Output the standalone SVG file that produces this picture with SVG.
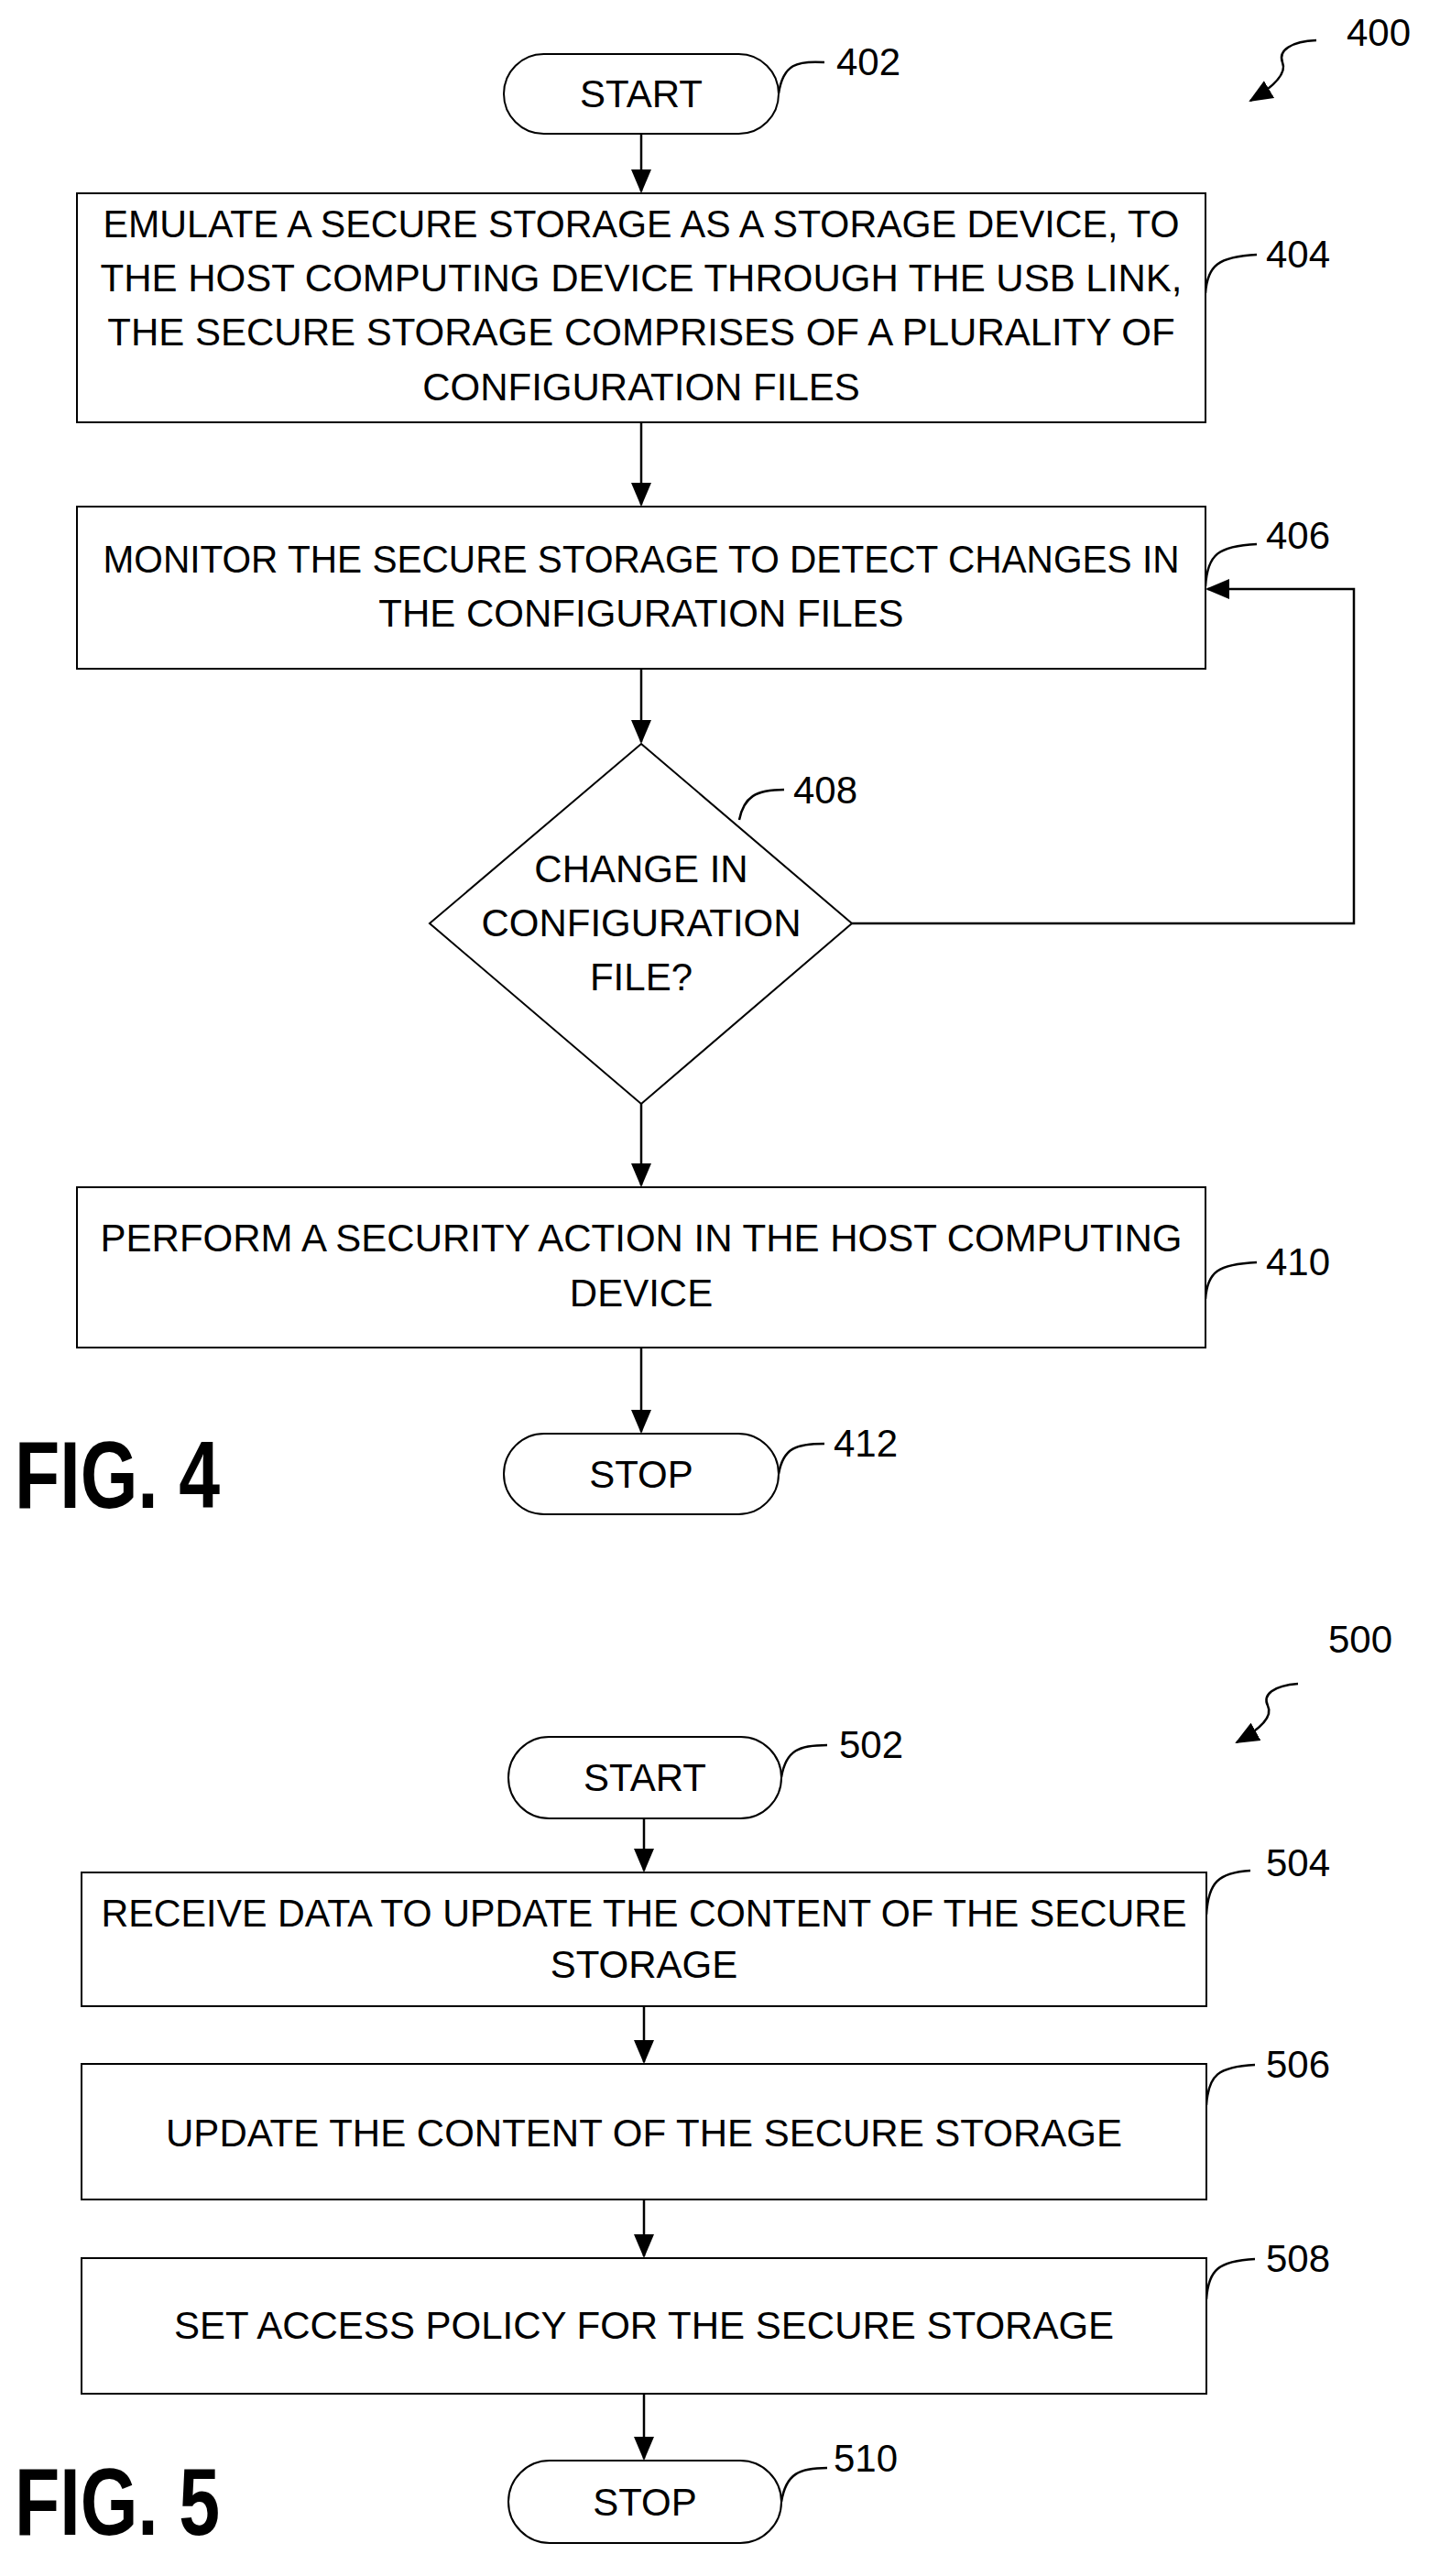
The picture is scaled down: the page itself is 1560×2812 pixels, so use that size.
<svg xmlns="http://www.w3.org/2000/svg" width="1560" height="2812" viewBox="0 0 1560 2812">
<style>
.s{fill:#fff;stroke:#000;stroke-width:2}
.l{fill:none;stroke:#000;stroke-width:2.5}
.t{font-family:"Liberation Sans",Arial,sans-serif;font-size:42px;text-anchor:middle;fill:#000}
.n{font-family:"Liberation Sans",Arial,sans-serif;font-size:42px;fill:#000}
.f{font-family:"Liberation Sans",Arial,sans-serif;font-size:104px;font-weight:bold;fill:#000}
</style>
<defs>
<marker id="b" markerWidth="26" markerHeight="22" refX="24" refY="11" orient="auto" markerUnits="userSpaceOnUse"><path d="M0,0 L26,11 L0,22 z" fill="#000"/></marker></defs>
<g id="connectors">
<path class="l" d="M700,146 V209" marker-end="url(#b)"/>
<path class="l" d="M700,461 V551" marker-end="url(#b)"/>
<path class="l" d="M700,730 V810" marker-end="url(#b)"/>
<path class="l" d="M700,1205 V1294" marker-end="url(#b)"/>
<path class="l" d="M930,1008 H1478 V643 H1318" marker-end="url(#b)"/>
<path class="l" d="M700,1471 V1563" marker-end="url(#b)"/>
<path class="l" d="M703,1985 V2042" marker-end="url(#b)"/>
<path class="l" d="M703,2190 V2251" marker-end="url(#b)"/>
<path class="l" d="M703,2401 V2463" marker-end="url(#b)"/>
<path class="l" d="M703,2613 V2684" marker-end="url(#b)"/>
<path class="l" d="M850,102 C855,70 870,66 900,68"/>
<path class="l" d="M1316,320 C1318,290 1330,280 1372,278"/>
<path class="l" d="M1316,640 C1318,605 1330,596 1372,594"/>
<path class="l" d="M807,895 C812,870 825,862 856,862"/>
<path class="l" d="M1316,1418 C1318,1388 1330,1380 1372,1378"/>
<path class="l" d="M850,1609 C855,1580 870,1576 900,1576"/>
<path class="l" d="M853,1940 C858,1910 873,1905 903,1905"/>
<path class="l" d="M1317,2090 C1319,2055 1330,2044 1365,2042"/>
<path class="l" d="M1317,2298 C1319,2265 1330,2256 1370,2254"/>
<path class="l" d="M1317,2510 C1319,2478 1330,2468 1370,2466"/>
<path class="l" d="M853,2731 C858,2700 873,2694 903,2694"/>
<path class="l" d="M1437,44 C1410,45 1395,55 1400,68 C1405,80 1390,95 1365,110" marker-end="url(#b)"/>
<path class="l" d="M1417,1838 C1390,1840 1378,1850 1384,1862 C1390,1874 1375,1888 1350,1902" marker-end="url(#b)"/>
</g>
<text class="n" x="1470" y="50">400</text>
<g id="n402"><rect class="s" x="550" y="59" width="300" height="87" rx="43.5"/><text class="t" x="700" y="117">START</text><text class="n" x="913" y="82">402</text></g>
<g id="n404"><rect class="s" x="84" y="211" width="1232" height="250"/>
<text class="t" x="700" y="259" textLength="1175" lengthAdjust="spacingAndGlyphs">EMULATE A SECURE STORAGE AS A STORAGE DEVICE, TO</text>
<text class="t" x="700" y="318">THE HOST COMPUTING DEVICE THROUGH THE USB LINK,</text>
<text class="t" x="700" y="377">THE SECURE STORAGE COMPRISES OF A PLURALITY OF</text>
<text class="t" x="700" y="437">CONFIGURATION FILES</text><text class="n" x="1382" y="292">404</text></g>
<g id="n406"><rect class="s" x="84" y="553" width="1232" height="177"/>
<text class="t" x="700" y="625" textLength="1175" lengthAdjust="spacingAndGlyphs">MONITOR THE SECURE STORAGE TO DETECT CHANGES IN</text>
<text class="t" x="700" y="684">THE CONFIGURATION FILES</text><text class="n" x="1382" y="599">406</text></g>
<g id="n408"><path class="s" d="M700,812 L930,1008 L700,1205 L469,1008 Z"/>
<text class="t" x="700" y="963">CHANGE IN</text><text class="t" x="700" y="1022">CONFIGURATION</text><text class="t" x="700" y="1081">FILE?</text>
<text class="n" x="866" y="877">408</text></g>
<g id="n410"><rect class="s" x="84" y="1296" width="1232" height="175"/>
<text class="t" x="700" y="1366">PERFORM A SECURITY ACTION IN THE HOST COMPUTING</text>
<text class="t" x="700" y="1426">DEVICE</text><text class="n" x="1382" y="1392">410</text></g>
<g id="n412"><rect class="s" x="550" y="1565" width="300" height="88" rx="44"/><text class="t" x="700" y="1624">STOP</text><text class="n" x="910" y="1590">412</text></g>
<text class="f" x="16" y="1646" textLength="224" lengthAdjust="spacingAndGlyphs">FIG. 4</text>
<text class="n" x="1450" y="1804">500</text>
<g id="n502"><rect class="s" x="555" y="1896" width="298" height="89" rx="44.5"/><text class="t" x="704" y="1955">START</text><text class="n" x="916" y="1919">502</text></g>
<g id="n504"><rect class="s" x="89" y="2044" width="1228" height="146"/>
<text class="t" x="703" y="2103" textLength="1185" lengthAdjust="spacingAndGlyphs">RECEIVE DATA TO UPDATE THE CONTENT OF THE SECURE</text>
<text class="t" x="703" y="2159">STORAGE</text><text class="n" x="1382" y="2048">504</text></g>
<g id="n506"><rect class="s" x="89" y="2253" width="1228" height="148"/>
<text class="t" x="703" y="2343">UPDATE THE CONTENT OF THE SECURE STORAGE</text><text class="n" x="1382" y="2268">506</text></g>
<g id="n508"><rect class="s" x="89" y="2465" width="1228" height="148"/>
<text class="t" x="703" y="2553">SET ACCESS POLICY FOR THE SECURE STORAGE</text><text class="n" x="1382" y="2480">508</text></g>
<g id="n510"><rect class="s" x="555" y="2686" width="298" height="90" rx="45"/><text class="t" x="704" y="2746">STOP</text><text class="n" x="910" y="2698">510</text></g>
<text class="f" x="16" y="2767" textLength="224" lengthAdjust="spacingAndGlyphs">FIG. 5</text>
</svg>
